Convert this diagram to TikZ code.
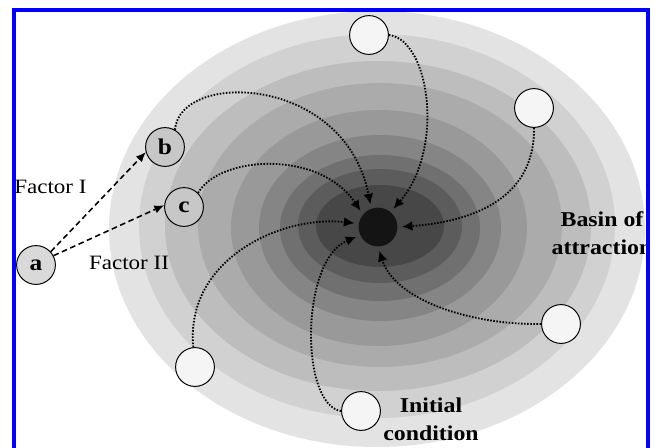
\documentclass[tikz,border=0pt]{standalone}
\usepackage{fontspec}
\setmainfont{Liberation Serif}[FakeStretch=1.13]
\usetikzlibrary{arrows.meta}

\begin{document}
\begin{tikzpicture}[x=0.025cm, y=-0.025cm, >=Latex,
  state/.style={circle, draw, line width=0.7pt, minimum size=0.97cm, inner sep=0pt, font=\fontsize{16}{16}\selectfont\bfseries},
  factor/.style={state, fill=black!22},
  start/.style={state, fill=black!4},
  flow/.style={->, line width=1.3pt, dash pattern=on 1.1pt off 1.1pt, shorten >=3pt, >={Latex[length=7.5pt, width=7pt]}},
  push/.style={->, line width=1.1pt, dash pattern=on 4pt off 2.5pt, >={Latex[length=7pt, width=6pt]}},
  txt/.style={inner sep=0pt, font=\fontsize{14.5}{19}\selectfont},
  boldtxt/.style={inner sep=0pt, align=center, font=\fontsize{15}{20}\selectfont\bfseries}]
  \useasboundingbox (0,0) rectangle (653,448);
  \begin{scope}
    \clip (0,0) rectangle (648,448);
    % basin: nested ellipses, lightest outside, darkest around the attractor
    \foreach \rx/\ry/\cx/\cy/\k in {268/218/377/229/11, 238/192/377/226/18, 213/165/378/226/26,
        182/142/380/225/33, 148/118/379/228/40, 121/93/380/228/48, 100/73/380/228/56,
        82/57/380/226/64, 64/41/380/226/72}
      \fill[black!\k] (\cx,\cy) ellipse[x radius=\rx, y radius=\ry];

    % attractor and the points that fall into it
    \node[circle, fill=black!92, minimum size=0.97cm] (sink) at (378,227) {};
    \node[factor, fill=black!15] (a) at (36,265) {a};
    \node[factor] (b) at (165,147) {b};
    \node[factor] (c) at (184,207) {c};
    \node[start] (s1) at (369,35) {};
    \node[start] (s2) at (534,108) {};
    \node[start] (s3) at (561,324) {};
    \node[start] (s4) at (361,411) {};
    \node[start] (s5) at (195,367) {};

    % trajectories towards the attractor
    \draw[flow] (b.60) .. controls (180,70) and (345,75) .. (sink.110);
    \draw[flow] (c.45) .. controls (220,155) and (320,150) .. (sink.140);
    \draw[flow] (s1.east) .. controls (430,40) and (445,150) .. (sink.50);
    \draw[flow] (s2.south) .. controls (535,200) and (470,222) .. (sink.east);
    \draw[flow] (s3.west) .. controls (470,325) and (395,300) .. (sink.south);
    \draw[flow] (s4.west) .. controls (300,405) and (300,260) .. (sink.205);
    \draw[flow] (s5.95) .. controls (185,260) and (280,215) .. (sink.170);

    % perturbations of a
    \draw[push] (a.42) -- (b.195);
    \draw[push] (a.28) -- (c.175);

    \node[txt, anchor=west] (f1) at (14,187) {Factor I};
    \node[txt] (f2) at (129,263) {Factor II};
    \node[boldtxt] (basin) at (602,233) {Basin of\\attraction};
    \node[boldtxt] (init) at (431,419) {Initial\\condition};
  \end{scope}
  % frame
  \draw[blue, line width=2.2pt] (14,10) rectangle (648,470);
\end{tikzpicture}
\end{document}
